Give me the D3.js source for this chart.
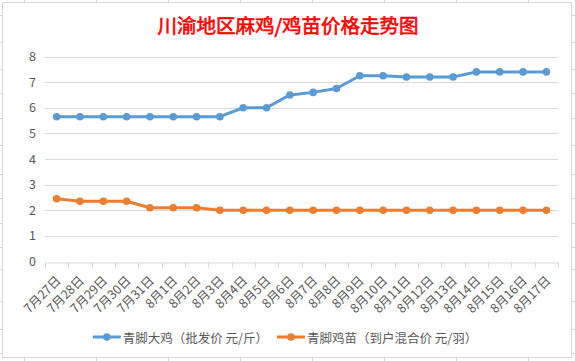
<!DOCTYPE html>
<html><head><meta charset="utf-8">
<script src="https://cdn.jsdelivr.net/npm/d3@7"></script>
<style>html,body{margin:0;padding:0;background:#fff;}svg{display:block;}</style>
</head><body><svg id="c" width="575" height="361"></svg>
<script>
const title = "川渝地区麻鸡/鸡苗价格走势图";
const categories = ["7月27日","7月28日","7月29日","7月30日","7月31日","8月1日","8月2日","8月3日","8月4日","8月5日","8月6日","8月7日","8月8日","8月9日","8月10日","8月11日","8月12日","8月13日","8月14日","8月15日","8月16日","8月17日"];
const seriesNames = ["青脚大鸡（批发价 元/斤）","青脚鸡苗（到户混合价 元/羽）"];
const bigChicken = [5.65,5.65,5.65,5.65,5.65,5.65,5.65,5.65,6.0,6.0,6.5,6.6,6.75,7.25,7.25,7.2,7.2,7.2,7.4,7.4,7.4,7.4];
const chick = [2.45,2.35,2.35,2.35,2.1,2.1,2.1,2.0,2.0,2.0,2.0,2.0,2.0,2.0,2.0,2.0,2.0,2.0,2.0,2.0,2.0,2.0];
const yTicks = [0,1,2,3,4,5,6,7,8];
const colors = ["#5B9BD5","#ED7D31"];

const svg = d3.select("#c");
const font = "'Noto Sans CJK SC','Microsoft YaHei',sans-serif";
const grey = "#D9D9D9";

// spreadsheet grid stubs outside the chart frame
const colXs = [24,96,168,240,312,384,456,528];
const rowYs = [15,42,69,93,118,145,174,198,223,247,269,301,329,353];
const stub = svg.append("g").attr("stroke","#D4D4D4").attr("stroke-width",1);
colXs.forEach(x=>{stub.append("line").attr("x1",x+0.5).attr("x2",x+0.5).attr("y1",0).attr("y2",2.5);
  stub.append("line").attr("x1",x+0.5).attr("x2",x+0.5).attr("y1",358).attr("y2",361);});
rowYs.forEach(y=>{stub.append("line").attr("x1",0).attr("x2",2.5).attr("y1",y+0.5).attr("y2",y+0.5);
  stub.append("line").attr("x1",572).attr("x2",575).attr("y1",y+0.5).attr("y2",y+0.5);});

// chart frame
svg.append("rect").attr("x",2.5).attr("y",2.5).attr("width",569).attr("height",355)
  .attr("fill","#fff").attr("stroke",grey).attr("stroke-width",1);

svg.append("text").attr("x",288).attr("y",24).attr("text-anchor","middle")
  .attr("dominant-baseline","central").attr("font-family",font).attr("font-weight","normal")
  .attr("font-size",19.5).attr("fill","#FF0000").attr("stroke","#FF0000").attr("stroke-width",0.6)
  .text(title);

const x = d3.scaleBand().domain(categories).range([45,558]);
const y = d3.scaleLinear().domain([0,8]).range([261.5,56.5]);

// gridlines
svg.append("g").selectAll("line").data(yTicks.filter(d=>d>0)).join("line")
  .attr("x1",45).attr("x2",558).attr("y1",d=>Math.round(y(d))+0.5).attr("y2",d=>Math.round(y(d))+0.5)
  .attr("stroke",grey).attr("stroke-width",1);

// y axis labels
const yAxis = svg.append("g").attr("transform","translate(45,0)")
  .call(d3.axisLeft(y).tickValues(yTicks).tickSize(0).tickPadding(9).tickFormat(d3.format("d")));
yAxis.select(".domain").remove();
yAxis.selectAll("text").attr("font-family",font).attr("font-size",12.5).attr("fill","#595959");

// x axis
const axY = Math.round(y(0))+0.5;
const xAxis = svg.append("g").attr("transform",`translate(0,${axY})`)
  .call(d3.axisBottom(x).tickSize(0));
xAxis.select(".domain").attr("stroke",grey);
xAxis.selectAll(".tick text").remove();
const bounds = categories.map(c=>x(c)).concat([558]);
svg.append("g").selectAll("line").data(bounds).join("line")
  .attr("x1",d=>Math.round(d)+0.5).attr("x2",d=>Math.round(d)+0.5).attr("y1",axY).attr("y2",axY+5)
  .attr("stroke",grey);
svg.append("g").selectAll("text").data(categories).join("text")
  .attr("transform",d=>`translate(${x(d)+x.bandwidth()/2+1},${axY+15}) rotate(-45)`)
  .attr("text-anchor","end").attr("dominant-baseline","central")
  .attr("font-family",font).attr("font-size",12.5).attr("fill","#595959").text(d=>d);

// series
const cx = d=>x(d)+x.bandwidth()/2;
[bigChicken,chick].forEach((vals,i)=>{
  const pts = categories.map((c,j)=>[cx(c),y(vals[j])]);
  svg.append("path").attr("d",d3.line()(pts)).attr("fill","none")
    .attr("stroke",colors[i]).attr("stroke-width",3).attr("stroke-linejoin","round");
  svg.append("g").selectAll("circle").data(pts).join("circle")
    .attr("cx",d=>d[0]).attr("cy",d=>d[1]).attr("r",3.8).attr("fill",colors[i]);
});

// legend
const lg = svg.append("g");
let lx = 100; const ly = 337;
seriesNames.forEach((n,i)=>{
  lg.append("line").attr("x1",lx).attr("x2",lx+28).attr("y1",ly).attr("y2",ly)
    .attr("stroke",colors[i]).attr("stroke-width",3);
  lg.append("circle").attr("cx",lx+14).attr("cy",ly).attr("r",3.8).attr("fill",colors[i]);
  const t = lg.append("text").attr("x",lx+30).attr("y",ly).attr("dominant-baseline","central")
    .attr("font-family",font).attr("font-size",12.5).attr("fill","#595959").text(n);
  lx += 30 + t.node().getComputedTextLength() + 9;
});
const bb = lg.node().getBBox();
lg.attr("transform",`translate(${285-(bb.x+bb.width/2)},0)`);
</script></body></html>
